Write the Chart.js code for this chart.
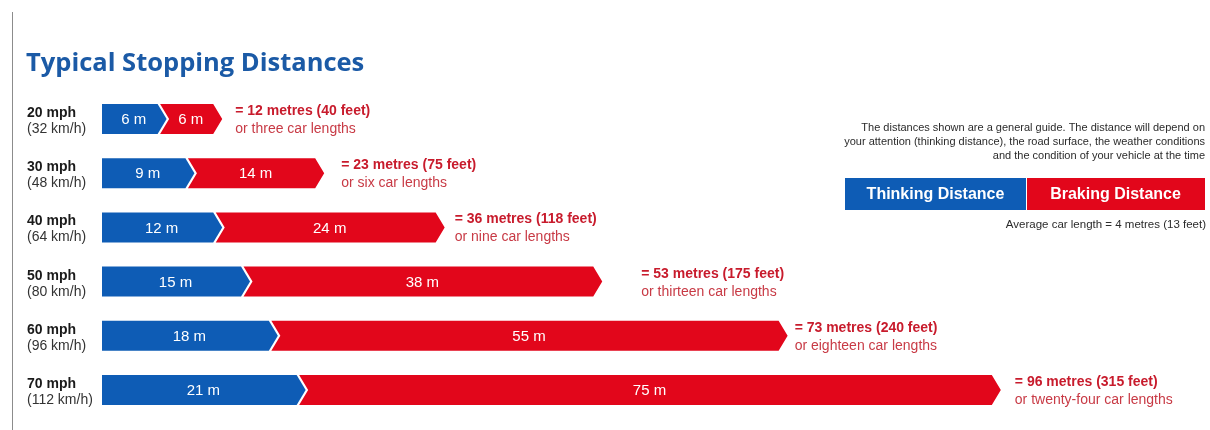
<!doctype html>
<html lang="en">
<head>
<meta charset="utf-8">
<title>Typical Stopping Distances</title>
<script src="https://cdn.jsdelivr.net/npm/chart.js@4.4.1/dist/chart.umd.min.js"></script>
<style>
  body { margin: 0; background: #fff; }
  #wrap { width: 1210px; height: 430px; position: relative; }
</style>
</head>
<body>
<div id="wrap"><canvas id="stopGraph"></canvas></div>
<script>
  // speeds down the left side
  const speedsMph = ['20 mph', '30 mph', '40 mph', '50 mph', '60 mph', '70 mph'];
  const speedsKmh = ['(32 km/h)', '(48 km/h)', '(64 km/h)', '(80 km/h)', '(96 km/h)', '(112 km/h)'];
  // distances in metres
  const thinkingDist = [6, 9, 12, 15, 18, 21];
  const brakingDist = [6, 14, 24, 38, 55, 75];
  const totalFeet = [40, 75, 118, 175, 240, 315];
  const carLengths = ['three', 'six', 'nine', 'thirteen', 'eighteen', 'twenty-four'];
  const noteLines = [
    'The distances shown are a general guide. The distance will depend on',
    'your attention (thinking distance), the road surface, the weather conditions',
    'and the condition of your vehicle at the time'
  ];
  const carNote = 'Average car length = 4 metres (13 feet)';

  const BLUE = '#0e5cb5';
  const RED = '#e2061b';
  const TEXT_RED = '#c81b2c';
  const TIP = 9;      // depth of the chevron point
  const GAP = 2.5;    // white gap between the two arrows
  const totalGap = [22, 26, 19, 48, 16, 23]; // space between arrow end and the total text

  function chevron(ctx, x0, x1, top, bot, notched) {
    const mid = (top + bot) / 2;
    ctx.beginPath();
    ctx.moveTo(x0, top);
    ctx.lineTo(x1, top);
    ctx.lineTo(x1 + TIP, mid);
    ctx.lineTo(x1, bot);
    ctx.lineTo(x0, bot);
    if (notched) ctx.lineTo(x0 + TIP, mid);
    ctx.closePath();
    ctx.fill();
  }

  // replaces the plain rectangles with arrow shapes
  const arrowBars = {
    id: 'arrowBars',
    beforeDatasetDraw() { return false; },
    afterDatasetsDraw(chart) {
      const ctx = chart.ctx;
      ctx.save();
      chart.data.datasets.forEach((ds, di) => {
        chart.getDatasetMeta(di).data.forEach((bar, i) => {
          const p = bar.getProps(['x', 'base', 'y', 'height'], true);
          const top = p.y - p.height / 2, bot = p.y + p.height / 2;
          const x0 = di === 0 ? p.base : p.base + GAP;
          ctx.fillStyle = ds.backgroundColor;
          chevron(ctx, x0, p.x, top, bot, di > 0);
          ctx.fillStyle = '#fff';
          ctx.font = '15px "Liberation Sans", Arial, sans-serif';
          ctx.textAlign = 'center';
          ctx.textBaseline = 'middle';
          ctx.fillText(ds.data[i] + ' m', (x0 + p.x) / 2 + 4, p.y + 1);
        });
      });
      ctx.restore();
    }
  };

  // title, speed labels, totals, notes and key
  const decorations = {
    id: 'decorations',
    afterDraw(chart) {
      const ctx = chart.ctx;
      const xs = chart.scales.x, ys = chart.scales.y;
      ctx.save();

      ctx.strokeStyle = '#8c8c8c';
      ctx.lineWidth = 1;
      ctx.beginPath();
      ctx.moveTo(12.5, 12);
      ctx.lineTo(12.5, 430);
      ctx.stroke();

      ctx.fillStyle = '#1b5aa6';
      ctx.font = 'bold 25.5px "Open Sans", sans-serif';
      ctx.textAlign = 'left';
      ctx.textBaseline = 'alphabetic';
      ctx.fillText('Typical Stopping Distances', 26, 71);

      speedsMph.forEach((mph, i) => {
        const y = ys.getPixelForValue(i);
        ctx.textAlign = 'left';
        ctx.fillStyle = '#1a1a1a';
        ctx.font = 'bold 14px "Liberation Sans", Arial, sans-serif';
        ctx.fillText(mph, 27, y - 2);
        ctx.fillStyle = '#333';
        ctx.font = '14px "Liberation Sans", Arial, sans-serif';
        ctx.fillText(speedsKmh[i], 27, y + 14);

        const total = thinkingDist[i] + brakingDist[i];
        const tx = xs.getPixelForValue(total) + totalGap[i];
        ctx.fillStyle = TEXT_RED;
        ctx.font = 'bold 14px "Liberation Sans", Arial, sans-serif';
        ctx.fillText('= ' + total + ' metres (' + totalFeet[i] + ' feet)', tx, y - 4);
        ctx.fillStyle = '#c83a45';
        ctx.font = '14px "Liberation Sans", Arial, sans-serif';
        ctx.fillText('or ' + carLengths[i] + ' car lengths', tx, y + 14);
      });

      // note block on the right
      ctx.textAlign = 'right';
      ctx.fillStyle = '#2b2b2b';
      ctx.font = '11px "Liberation Sans", Arial, sans-serif';
      noteLines.forEach((line, k) => ctx.fillText(line, 1205, 131 + k * 14));

      // key
      const keyTop = 178, keyH = 32, keyLeft = 845, keyMid = 1026, keyRight = 1205;
      ctx.fillStyle = BLUE;
      ctx.fillRect(keyLeft, keyTop, keyMid - keyLeft, keyH);
      ctx.fillStyle = RED;
      ctx.fillRect(keyMid + 1, keyTop, keyRight - keyMid - 1, keyH);
      ctx.fillStyle = '#fff';
      ctx.textAlign = 'center';
      ctx.textBaseline = 'middle';
      ctx.font = 'bold 16px "Liberation Sans", Arial, sans-serif';
      ctx.fillText(chart.data.datasets[0].label, (keyLeft + keyMid) / 2, keyTop + keyH / 2 + 1);
      ctx.fillText(chart.data.datasets[1].label, (keyMid + keyRight) / 2, keyTop + keyH / 2 + 1);

      ctx.textAlign = 'right';
      ctx.textBaseline = 'alphabetic';
      ctx.fillStyle = '#2b2b2b';
      ctx.font = '11.5px "Liberation Sans", Arial, sans-serif';
      ctx.fillText(carNote, 1206, 228);

      ctx.restore();
    }
  };

  const config = {
    type: 'bar',
    data: {
      labels: speedsMph,
      datasets: [
        { label: 'Thinking Distance', data: thinkingDist, backgroundColor: BLUE, barThickness: 30 },
        { label: 'Braking Distance', data: brakingDist, backgroundColor: RED, barThickness: 30 }
      ]
    },
    options: {
      indexAxis: 'y',
      responsive: true,
      maintainAspectRatio: false,
      animation: false,
      layout: { padding: { left: 102, right: 5, top: 92, bottom: 13 } },
      scales: {
        x: { stacked: true, min: 0, max: 119, display: false },
        y: { stacked: true, display: false }
      },
      plugins: {
        legend: { display: false },
        tooltip: { enabled: false }
      }
    },
    plugins: [arrowBars, decorations]
  };

  new Chart(document.getElementById('stopGraph'), config);
</script>
</body>
</html>
